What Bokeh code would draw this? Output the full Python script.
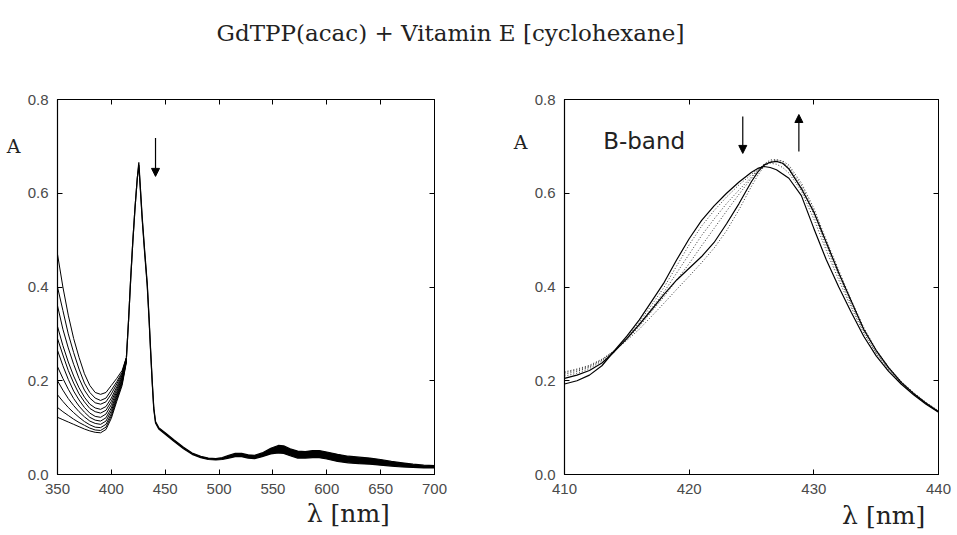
from bokeh.plotting import figure
from bokeh.models import Label, Arrow, NormalHead, FixedTicker, LinearAxis, Range1d, PrintfTickFormatter
from bokeh.layouts import column, row
from bokeh.embed import file_html
from bokeh.resources import INLINE

TITLE = "GdTPP(acac) + Vitamin E [cyclohexane]"
X_LABEL = "λ [nm]"
Y_LABEL = "A"
BAND_LABEL = "B-band"

# ---------- left panel: full spectra ----------
L_XTICKS = [350, 400, 450, 500, 550, 600, 650, 700]
L_YTICKS = [0.0, 0.2, 0.4, 0.6, 0.8]
L_XLABEL_POS = 620
L_YLABEL_POS = 0.7

UV_WL = [350, 355, 360, 365, 370, 375, 380, 385, 390, 395, 400, 405, 410, 414]
UV_CURVES = [
    [0.47, 0.40, 0.34, 0.29, 0.25, 0.215, 0.19, 0.175, 0.171, 0.175, 0.19, 0.205, 0.222, 0.25],
    [0.40, 0.35, 0.30, 0.26, 0.225, 0.195, 0.175, 0.163, 0.158, 0.163, 0.18, 0.198, 0.218, 0.25],
    [0.36, 0.31, 0.27, 0.235, 0.205, 0.18, 0.163, 0.153, 0.150, 0.155, 0.172, 0.193, 0.215, 0.249],
    [0.316, 0.275, 0.24, 0.21, 0.185, 0.165, 0.15, 0.142, 0.139, 0.145, 0.163, 0.187, 0.212, 0.248],
    [0.29, 0.255, 0.222, 0.195, 0.172, 0.155, 0.141, 0.134, 0.131, 0.137, 0.156, 0.182, 0.209, 0.247],
    [0.265, 0.232, 0.203, 0.178, 0.159, 0.143, 0.131, 0.124, 0.122, 0.129, 0.149, 0.177, 0.206, 0.246],
    [0.23, 0.205, 0.182, 0.162, 0.146, 0.133, 0.122, 0.116, 0.114, 0.121, 0.142, 0.172, 0.203, 0.245],
    [0.2, 0.18, 0.162, 0.147, 0.134, 0.123, 0.114, 0.109, 0.107, 0.114, 0.136, 0.168, 0.2, 0.244],
    [0.17, 0.156, 0.143, 0.132, 0.122, 0.113, 0.106, 0.101, 0.1, 0.107, 0.13, 0.164, 0.197, 0.243],
    [0.143, 0.134, 0.126, 0.118, 0.111, 0.105, 0.099, 0.095, 0.094, 0.101, 0.125, 0.16, 0.194, 0.242],
    [0.122, 0.117, 0.112, 0.107, 0.102, 0.097, 0.093, 0.09, 0.089, 0.096, 0.12, 0.156, 0.19, 0.24],
]

VIS_WL = [414, 416, 418, 420, 422, 424, 425.5, 427, 428.6, 431,
          433.3, 435, 436.4, 438, 439.4, 441, 444, 450, 458, 467,
          475, 483, 490, 497, 503, 509, 515, 521, 527, 533,
          540, 548, 555, 560, 566, 573, 580, 587, 593, 600,
          610, 620, 630, 640, 650, 660, 670, 680, 690, 700]
VIS_HI = [0.25, 0.33, 0.42, 0.50, 0.57, 0.63, 0.666, 0.61, 0.55, 0.475,
          0.408, 0.335, 0.268, 0.196, 0.142, 0.113, 0.1, 0.089, 0.074, 0.058,
          0.046, 0.039, 0.035, 0.034, 0.036, 0.041, 0.045, 0.045, 0.042, 0.041,
          0.046, 0.056, 0.062, 0.061, 0.055, 0.05, 0.049, 0.051, 0.051, 0.048,
          0.043, 0.039, 0.037, 0.035, 0.032, 0.028, 0.025, 0.022, 0.02, 0.019]
VIS_LO = [0.25, 0.33, 0.42, 0.50, 0.57, 0.63, 0.66, 0.605, 0.545, 0.47,
          0.403, 0.33, 0.264, 0.193, 0.139, 0.11, 0.097, 0.086, 0.071, 0.055,
          0.043, 0.036, 0.032, 0.031, 0.032, 0.035, 0.038, 0.038, 0.035, 0.034,
          0.038, 0.044, 0.046, 0.045, 0.04, 0.035, 0.035, 0.036, 0.036, 0.033,
          0.028, 0.025, 0.023, 0.022, 0.02, 0.018, 0.016, 0.015, 0.014, 0.014]

L_ARROW_X = 441
L_ARROW_Y = [0.718, 0.636]

# ---------- right panel: B-band detail ----------
R_XTICKS = [410, 420, 430, 440]
R_YTICKS = [0.0, 0.2, 0.4, 0.6, 0.8]
R_XLABEL_POS = 435.6
R_YLABEL_POS = 0.71
R_WL = [410, 411, 412, 413, 414, 415, 416, 417, 418, 419, 420, 421, 422, 423, 424, 425,
        425.5, 426, 426.5, 427, 427.5, 428,
        429, 430, 431, 432, 433, 434, 435, 436, 437, 438, 439, 440]
R_SOLID = [
    [0.193, 0.2, 0.212, 0.232, 0.264, 0.295, 0.33, 0.37, 0.41, 0.458, 0.503, 0.542, 0.573, 0.600, 0.624, 0.645,
     0.653, 0.657, 0.655, 0.65, 0.641, 0.632,
     0.595, 0.525, 0.458, 0.40, 0.346, 0.295, 0.253, 0.22, 0.193, 0.17, 0.15, 0.133],
    [0.205, 0.212, 0.222, 0.238, 0.262, 0.29, 0.32, 0.352, 0.385, 0.415, 0.44, 0.465, 0.495, 0.535, 0.578, 0.625,
     0.645, 0.66, 0.666, 0.668, 0.664, 0.652,
     0.61, 0.56, 0.495, 0.43, 0.37, 0.31, 0.265, 0.228, 0.197, 0.173, 0.152, 0.134],
]
R_DOTTED = [
    [0.21, 0.216, 0.226, 0.242, 0.264, 0.292, 0.325, 0.362, 0.40, 0.445, 0.49, 0.53, 0.563, 0.592, 0.618, 0.64,
     0.652, 0.66, 0.664, 0.662, 0.655, 0.643,
     0.605, 0.545, 0.478, 0.415, 0.356, 0.302, 0.258, 0.223, 0.195, 0.172, 0.152, 0.134],
    [0.214, 0.22, 0.229, 0.244, 0.264, 0.29, 0.32, 0.355, 0.39, 0.43, 0.47, 0.51, 0.545, 0.578, 0.607, 0.635,
     0.65, 0.661, 0.668, 0.669, 0.663, 0.65,
     0.612, 0.555, 0.488, 0.424, 0.362, 0.306, 0.26, 0.225, 0.196, 0.173, 0.153, 0.135],
    [0.217, 0.223, 0.231, 0.245, 0.264, 0.288, 0.316, 0.348, 0.38, 0.415, 0.45, 0.488, 0.525, 0.562, 0.598, 0.632,
     0.648, 0.662, 0.671, 0.672, 0.667, 0.655,
     0.617, 0.562, 0.495, 0.43, 0.367, 0.31, 0.262, 0.226, 0.197, 0.173, 0.153, 0.135],
    [0.219, 0.225, 0.233, 0.246, 0.264, 0.286, 0.31, 0.338, 0.366, 0.395, 0.423, 0.452, 0.483, 0.52, 0.565, 0.615,
     0.638, 0.657, 0.667, 0.671, 0.669, 0.66,
     0.622, 0.568, 0.5, 0.436, 0.372, 0.314, 0.266, 0.229, 0.199, 0.175, 0.154, 0.136],
]
R_DOWN_X = 424.3
R_DOWN_Y = [0.764, 0.685]
R_UP_X = 428.8
R_UP_Y = [0.689, 0.768]

SERIF = "DejaVu Serif"
SANS = "Liberation Sans"
TICK_COLOR = "#4a4a4a"
TEXT_COLOR = "#222222"


def label_axis(tick, text, font_size, standoff):
    # an axis that carries no line and no tick, used only to place a text label
    return LinearAxis(ticker=FixedTicker(ticks=[tick]), major_label_overrides={tick: text},
                      axis_line_color=None, major_tick_line_color=None, minor_tick_line_color=None,
                      major_tick_in=0, major_tick_out=0, major_label_standoff=standoff,
                      major_label_text_font=SERIF, major_label_text_font_size=font_size,
                      major_label_text_color=TEXT_COLOR)


def make_panel(width, height, xr, yr, xticks, yticks, borders, xlab_pos, ylab_pos, xlab_standoff):
    p = figure(width=width, height=height, x_range=Range1d(*xr), y_range=Range1d(*yr),
               output_backend="svg", toolbar_location=None,
               min_border_left=borders[0], min_border_right=borders[1],
               min_border_top=borders[2], min_border_bottom=borders[3])
    p.xgrid.visible = False
    p.ygrid.visible = False
    p.outline_line_color = "black"
    p.outline_line_width = 1
    p.background_fill_color = "white"
    p.border_fill_color = "white"
    for ax, ticks, fmt in ((p.xaxis[0], xticks, "%d"), (p.yaxis[0], yticks, "%.1f")):
        ax.ticker = FixedTicker(ticks=ticks)
        ax.formatter = PrintfTickFormatter(format=fmt)
        ax.minor_tick_line_color = None
        ax.major_tick_in = 5
        ax.major_tick_out = 0
        ax.axis_line_color = "black"
        ax.axis_line_width = 1.2
        ax.major_tick_line_color = "black"
        ax.major_label_text_font = SANS
        ax.major_label_text_font_size = "15px"
        ax.major_label_text_color = TICK_COLOR
        ax.major_label_standoff = 9
    top = LinearAxis(ticker=FixedTicker(ticks=xticks), major_label_overrides={t: "" for t in xticks},
                     major_tick_in=5, major_tick_out=0, minor_tick_line_color=None,
                     axis_line_color="black", major_label_standoff=0)
    right = LinearAxis(ticker=FixedTicker(ticks=yticks), major_label_overrides={t: "" for t in yticks},
                       major_tick_in=5, major_tick_out=0, minor_tick_line_color=None,
                       axis_line_color="black", major_label_standoff=0)
    p.add_layout(top, "above")
    p.add_layout(right, "right")
    p.add_layout(label_axis(xlab_pos, X_LABEL, "25px", xlab_standoff), "below")
    p.add_layout(label_axis(ylab_pos, Y_LABEL, "19px", 4), "left")
    return p


# title strip
p0 = figure(width=957, height=70, x_range=Range1d(0, 957), y_range=Range1d(0, 70),
            output_backend="svg", toolbar_location=None,
            x_axis_location=None, y_axis_location=None, min_border=0)
p0.outline_line_color = None
p0.xgrid.visible = False
p0.ygrid.visible = False
p0.add_layout(Label(x=450, y=38, text=TITLE, text_font=SERIF, text_font_size="23px",
                    text_align="center", text_baseline="middle", text_color=TEXT_COLOR))

head = dict(size=8, line_color="black", fill_color="black")

# left panel
p1 = make_panel(480, 465, (350, 700), (0, 0.8), L_XTICKS, L_YTICKS, (57, 46, 29, 58),
                L_XLABEL_POS, L_YLABEL_POS, 2)
for c in UV_CURVES:
    p1.line(UV_WL, c, line_color="black", line_width=1)
p1.varea(x=VIS_WL, y1=VIS_LO, y2=VIS_HI, fill_color="black")
p1.line(VIS_WL, VIS_HI, line_color="black", line_width=1.2)
p1.line(VIS_WL, VIS_LO, line_color="black", line_width=1.2)
p1.add_layout(Arrow(x_start=L_ARROW_X, y_start=L_ARROW_Y[0], x_end=L_ARROW_X, y_end=L_ARROW_Y[1],
                    line_width=1.2, end=NormalHead(**head)))

# right panel
p2 = make_panel(477, 465, (410, 440), (0, 0.8), R_XTICKS, R_YTICKS, (84, 19, 26, 61),
                R_XLABEL_POS, R_YLABEL_POS, 4)
for c in R_DOTTED:
    p2.line(R_WL, c, line_color="#333333", line_width=1, line_dash="1 2")
for c in R_SOLID:
    p2.line(R_WL, c, line_color="black", line_width=1.2)
p2.add_layout(Arrow(x_start=R_DOWN_X, y_start=R_DOWN_Y[0], x_end=R_DOWN_X, y_end=R_DOWN_Y[1],
                    line_width=1.2, end=NormalHead(**head)))
p2.add_layout(Arrow(x_start=R_UP_X, y_start=R_UP_Y[0], x_end=R_UP_X, y_end=R_UP_Y[1],
                    line_width=1.2, end=NormalHead(**head)))
p2.add_layout(Label(x=413.1, y=0.711, text=BAND_LABEL, text_font="DejaVu Sans", text_font_size="23px",
                    text_align="left", text_baseline="middle", text_color=TEXT_COLOR))

layout = column(p0, row(p1, p2))
open("out.html", "w").write(file_html(layout, INLINE))
